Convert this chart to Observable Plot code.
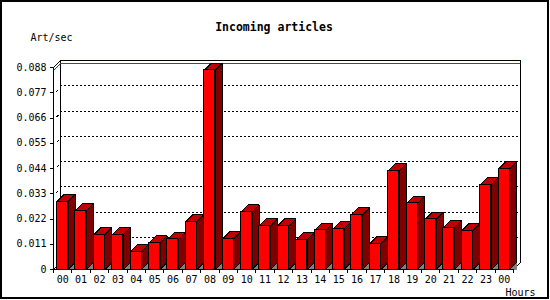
<!DOCTYPE html>
<html><head><meta charset="utf-8">
<script src="https://cdn.jsdelivr.net/npm/d3@7"></script>
<script src="https://cdn.jsdelivr.net/npm/@observablehq/plot@0.6"></script>
<style>
html,body{margin:0;padding:0;background:#fff;}
#chart{width:550px;height:300px;}
svg{shape-rendering:crispEdges;}
</style></head><body><div id="chart"></div>
<script>
const title = "Incoming articles";
const yLabel = "Art/sec";
const xLabel = "Hours";
const hours = ["00","01","02","03","04","05","06","07","08","09","10","11","12","13","14","15","16","17","18","19","20","21","22","23","00"];
const values = [0.0296,0.0256,0.0151,0.0151,0.0078,0.0116,0.0131,0.0209,0.0868,0.0134,0.0251,0.0190,0.0190,0.0129,0.0170,0.0177,0.0238,0.0112,0.0430,0.0288,0.0218,0.0182,0.0169,0.0370,0.0439];
const yTicks = [0,0.011,0.022,0.033,0.044,0.055,0.066,0.077,0.088];

const W = 550, H = 300, mL = 53, mR = 37, mT = 67, mB = 31;
const xMax = hours.length;
const yMax = 0.088;
const DEPTH = 7;
const DX = DEPTH * xMax / (W - mL - mR);
const DY = DEPTH * yMax / (H - mT - mB);
const BAR0 = 0.19, BAR1 = 0.79;
const maxVal = d3.max(values);

const rows = values.map((v, i) => ({i, v, hour: hours[i]}));
const sides = [], tops = [], shadows = [];
rows.forEach(({i, v}) => {
  const a = i + BAR0, b = i + BAR1;
  [[b,0],[b+DX,DY],[b+DX,v+DY],[b,v],[b,0]].forEach(([x,y]) => sides.push({id:i,x,y}));
  [[a,v],[a+DX,v+DY],[b+DX,v+DY],[b,v],[a,v]].forEach(([x,y]) => tops.push({id:i,x,y}));
  [[b,0],[b+DX,DY],[b+DX,0],[b,0]].forEach(([x,y]) => shadows.push({id:i,x,y}));
});
const inner = yTicks.filter(t => t > 0 && t < yMax);

const border = (index, scales, values, dims) => {
  const r = d3.create("svg:rect")
    .attr("x", 1).attr("y", 1).attr("width", dims.width - 3).attr("height", dims.height - 3)
    .attr("fill", "none").attr("stroke", "black").attr("stroke-width", 2);
  return r.node();
};

const chart = Plot.plot({
  width: W, height: H,
  marginLeft: mL, marginRight: mR, marginTop: mT, marginBottom: mB,
  x: {type: "linear", domain: [0, xMax], label: null},
  y: {type: "linear", domain: [0, yMax], label: null},
  style: {fontFamily: "'DejaVu Sans Mono', monospace", fontSize: "10px", color: "black", background: "white", overflow: "visible"},
  marks: [
    // back plane gridlines
    Plot.ruleY(inner, {dx: DEPTH, dy: -DEPTH, stroke: "black", strokeDasharray: "2,2"}),
    Plot.link(inner, {x1: 3/7*DX, y1: t => t + 1/7*DY, x2: 5/7*DX, y2: t => t + 3/7*DY, stroke: "black"}),
    // back frame
    Plot.ruleY([yMax], {dx: DEPTH, dy: -DEPTH, stroke: "black"}),
    Plot.ruleX([0, xMax], {y1: 0, y2: yMax, dx: DEPTH, dy: -DEPTH, stroke: "black"}),
    Plot.link([yMax, 0], {x1: 0, y1: d => d, x2: DX, y2: d => d + DY, stroke: "black"}),
    Plot.link([0], {x1: xMax, y1: 0, x2: xMax + DX, y2: DY, stroke: "black"}),
    // max line
    Plot.ruleY([maxVal], {dx: DEPTH, dy: -DEPTH, stroke: "#ff0000"}),
    Plot.link([maxVal], {x1: 0, y1: d => d, x2: DX, y2: d => d + DY, stroke: "#ff0000"}),
    // 3D bars
    Plot.line(shadows, {x: "x", y: "y", z: "id", fill: "#808080", stroke: "none", curve: "linear"}),
    Plot.line(sides, {x: "x", y: "y", z: "id", fill: "#800000", stroke: "black", strokeWidth: 1, curve: "linear"}),
    Plot.line(tops, {x: "x", y: "y", z: "id", fill: "#c00000", stroke: "black", strokeWidth: 1, curve: "linear"}),
    Plot.rect(rows, {x1: d => d.i + BAR0, x2: d => d.i + BAR1, y1: 0, y2: "v", fill: "#ff0000", stroke: "black", strokeWidth: 1}),
    // front axes
    Plot.ruleX([0], {y1: 0, y2: yMax, stroke: "black"}),
    Plot.ruleY([0], {stroke: "black"}),
    Plot.axisY({ticks: yTicks, tickSize: 3, tickPadding: 4, label: null, tickFormat: d => d === 0 ? "0" : d.toFixed(3)}),
    Plot.axisX({ticks: d3.range(0, xMax + 1), tickSize: 4, label: null, tickFormat: () => ""}),
    Plot.text(rows, {x: d => d.i + 0.5, y: 0, text: "hour", dy: 10, fill: "black"}),
    // titles
    Plot.text([title], {frameAnchor: "top", lineAnchor: "middle", dx: -9.5, dy: -40, fontWeight: "bold", fontSize: 11.5, fill: "black"}),
    Plot.text([yLabel], {frameAnchor: "top-left", lineAnchor: "middle", textAnchor: "start", dx: -23, dy: -30, fill: "black"}),
    Plot.text([xLabel], {frameAnchor: "bottom-right", lineAnchor: "middle", textAnchor: "start", dx: -8, dy: 23, fill: "black"}),
    border
  ]
});
document.getElementById("chart").appendChild(chart);
</script>
</body></html>
